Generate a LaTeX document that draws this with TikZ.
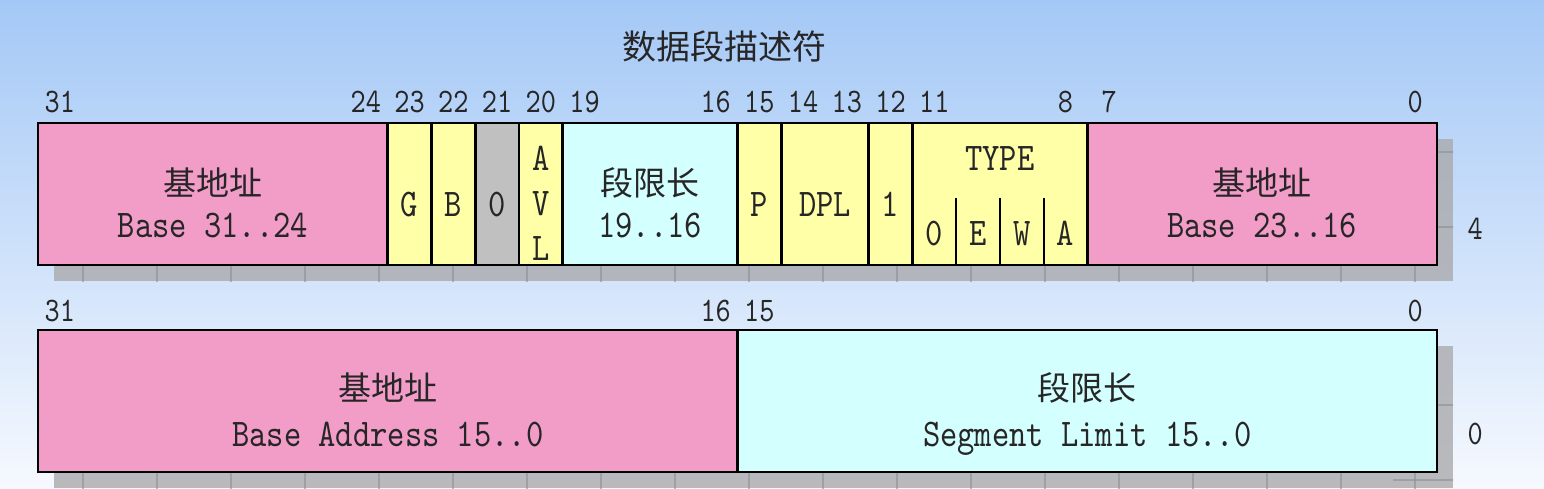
\documentclass[tikz,border=0pt]{standalone}
\usepackage{fontspec}
\newfontfamily\cjkfont{Noto Sans CJK SC}
\newfontfamily\bitfont{lmmono10-regular.otf}[FakeStretch=0.84]
\definecolor{basepink}{RGB}{242,156,200}
\definecolor{flagyellow}{RGB}{255,255,168}
\definecolor{limitcyan}{RGB}{212,255,255}
\definecolor{zerogray}{RGB}{192,192,192}
\definecolor{shadowgray}{RGB}{170,170,172}
\definecolor{gridgray}{RGB}{140,144,150}
\definecolor{bgtop}{RGB}{164,200,246}
\definecolor{bgmid}{RGB}{196,219,249}
\definecolor{bgbot}{RGB}{246,249,254}

\newcommand{\Field}[4]{% hi bit,lo bit,top y,colour
    \filldraw[field,fill=#4] ({31-#1},#3) rectangle ({32-#2},#3+142);
}
\newcommand{\BoxShadow}[2]{% top y,y of grid rows
    \fill[shadowgray,fill opacity=0.8] (0.366,#1+16) rectangle (32.366,#1+158);
    \begin{scope}
        \clip (0.366,#1+16) rectangle (32.366,#1+158);
        \foreach \k in {0,...,18}
            \draw[gridline] ({(45+74*\k)/43.72},#1) -- ++(0,170);
        \foreach \g in {#2}
            \draw[gridline] (31,\g) -- (33,\g);
    \end{scope}
}

\begin{document}
\begin{tikzpicture}[x=21.86pt,y=-0.5pt,
    field/.style={draw=black,line width=1.3pt},
    gridline/.style={draw=gridgray,line width=0.7pt,opacity=0.6},
    bits/.style={font=\bitfont\fontsize{17.2}{18}\selectfont,text=black!85,
        inner sep=0pt,text height=10.5pt,text depth=0pt},
    fieldtxt/.style={font=\bitfont\fontsize{19.6}{20}\selectfont,text=black!85,
        inner sep=0pt,text height=12pt,text depth=0pt},
    cjk/.style={font=\cjkfont\fontsize{16.5}{17}\selectfont,text=black!85,inner sep=0pt}]
        \useasboundingbox (-0.8692,0) rectangle (34.4464,488);
        \shade[top color=bgtop,middle color=bgmid,bottom color=bgbot]
            (-0.8692,0) rectangle (34.4464,488);

        \node[cjk,font=\cjkfont\fontsize{17}{18}\selectfont] (title) at (15.7,47) {数据段描述符};

        % high double word
        \BoxShadow{123}{152,227}
        \Field{31}{24}{123}{basepink}
        \Field{23}{23}{123}{flagyellow}
        \Field{22}{22}{123}{flagyellow}
        \Field{21}{21}{123}{zerogray}
        \Field{20}{20}{123}{flagyellow}
        \Field{19}{16}{123}{limitcyan}
        \Field{15}{15}{123}{flagyellow}
        \Field{14}{13}{123}{flagyellow}
        \Field{12}{12}{123}{flagyellow}
        \Field{11}{8}{123}{flagyellow}
        \Field{7}{0}{123}{basepink}
        \foreach \x in {21,22,23}
            \draw[line width=1pt] (\x,198) -- (\x,265);

        \foreach \b in {31,24,23,22,21,20,19,16,15,14,13,12,11,8,7,0}
            \node[bits] (t\b) at ({31.5-\b},102) {\b};

        \node[cjk] (basehi) at (4,183) {基地址};
        \node[fieldtxt] (basehitxt) at (4,225) {Base 31..24};
        \node[fieldtxt] (g) at (8.5,204) {G};
        \node[fieldtxt] (db) at (9.5,204) {B};
        \node[fieldtxt] (zero) at (10.5,204) {0};
        \node[fieldtxt] (avla) at (11.5,158) {A};
        \node[fieldtxt] (avlv) at (11.5,203) {V};
        \node[fieldtxt] (avll) at (11.5,248) {L};
        \node[cjk] (limhi) at (14,183) {段限长};
        \node[fieldtxt] (limhitxt) at (14,225) {19..16};
        \node[fieldtxt] (p) at (16.5,204) {P};
        \node[fieldtxt] (dpl) at (18,204) {DPL};
        \node[fieldtxt] (s) at (19.5,204) {1};
        \node[fieldtxt] (type) at (22,158) {TYPE};
        \node[fieldtxt] (tzero) at (20.5,233) {0};
        \node[fieldtxt] (te) at (21.5,233) {E};
        \node[fieldtxt] (tw) at (22.5,233) {W};
        \node[fieldtxt] (ta) at (23.5,233) {A};
        \node[cjk] (basemid) at (28,183) {基地址};
        \node[fieldtxt] (basemidtxt) at (28,225) {Base 23..16};
        \node[bits] (dw4) at (32.87,229) {4};

        % low double word
        \BoxShadow{330}{405,480}
        \Field{31}{16}{330}{basepink}
        \Field{15}{0}{330}{limitcyan}

        \foreach \b in {31,16,15,0}
            \node[bits] (s\b) at ({31.5-\b},311) {\b};

        \node[cjk] (baselo) at (8,388) {基地址};
        \node[fieldtxt] (baselotxt) at (8,434) {Base Address 15..0};
        \node[cjk] (limlo) at (24,388) {段限长};
        \node[fieldtxt] (limlotxt) at (24,434) {Segment Limit 15..0};
        \node[bits] (dw0) at (32.87,434) {0};
\end{tikzpicture}
\end{document}
